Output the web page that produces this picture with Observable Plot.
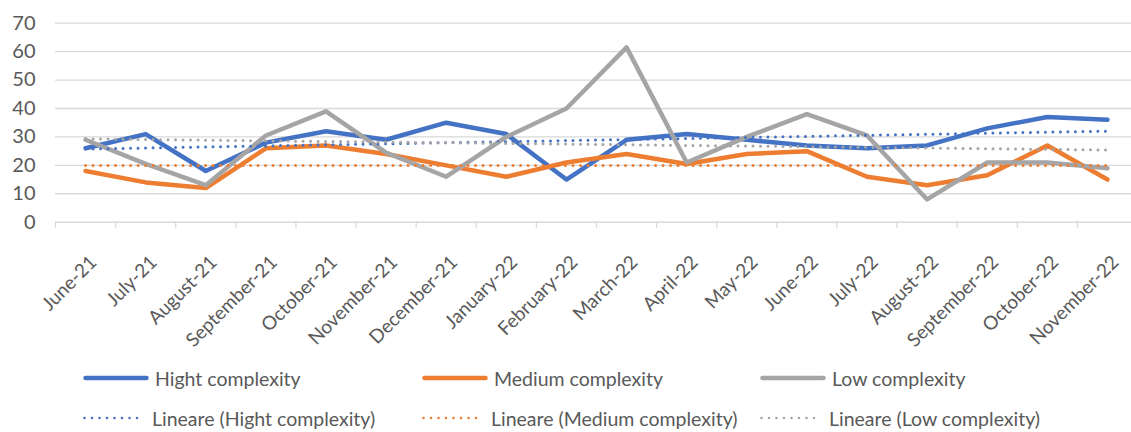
<!DOCTYPE html>
<html>
<head>
<meta charset="utf-8">
<script src="https://cdn.jsdelivr.net/npm/d3@7"></script>
<script src="https://cdn.jsdelivr.net/npm/@observablehq/plot@0.6"></script>
<style>
  html, body { margin: 0; padding: 0; background: #fff; }
  body { width: 1131px; height: 432px; overflow: hidden; font-family: Lato, "Open Sans", sans-serif; }
  #chart { position: relative; width: 1131px; height: 362px; }
  #legend { position: relative; width: 1131px; height: 70px; color: #595959; font-size: 19.5px; }
  .item { position: absolute; display: flex; align-items: center; white-space: nowrap; }
  .item svg { margin-right: 6px; }
</style>
</head>
<body>
<div id="chart"></div>
<div id="legend"></div>
<script>
const months = ["June-21","July-21","August-21","September-21","October-21","November-21","December-21","January-22","February-22","March-22","April-22","May-22","June-22","July-22","August-22","September-22","October-22","November-22"];
const high   = [26, 31, 18, 28, 32, 29, 35, 31, 15, 29, 31, 29, 27, 26, 27, 33, 37, 36];
const medium = [18, 14, 12, 26, 27, 24, 20, 16, 21, 24, 20.5, 24, 25, 16, 13, 16.5, 27, 15];
const low    = [29, 20.5, 13, 30.5, 39, 24.5, 16, 30, 40, 61.5, 21, 30, 38, 30.5, 8, 21, 21, 19];
const yTicks = [0, 10, 20, 30, 40, 50, 60, 70];
const seriesNames = ["Hight complexity", "Medium complexity", "Low complexity"];
const trendNames = ["Lineare (Hight complexity)", "Lineare (Medium complexity)", "Lineare (Low complexity)"];
const colors = ["#4472C4", "#ED7D31", "#A5A5A5"];

const values = [high, medium, low];
const rows = values.flatMap((vals, s) => vals.map((v, i) => ({series: seriesNames[s], i: i + 0.5, v})));
const boundaries = d3.range(0, months.length + 1);

const lineMarks = [];
const trendMarks = [];
seriesNames.forEach((name, s) => {
  const data = rows.filter(r => r.series === name);
  lineMarks.push(Plot.line(data, {x: "i", y: "v", stroke: colors[s], strokeWidth: 4.5, strokeLinejoin: "round", strokeLinecap: "round"}));
  trendMarks.push(Plot.linearRegressionY(data, {x: "i", y: "v", stroke: colors[s], ci: 0, strokeWidth: 3, strokeDasharray: "0 7.5", strokeLinecap: "round"}));
});

const chart = Plot.plot({
  width: 1131,
  height: 362,
  marginLeft: 55,
  marginRight: 0,
  marginTop: 22.7,
  marginBottom: 140.3,
  style: {fontFamily: "Lato, 'Open Sans', sans-serif", color: "#595959", background: "#fff"},
  x: {domain: [0, 17.9], axis: null},
  y: {domain: [0, 70], axis: null},
  marks: [
    Plot.ruleY(yTicks.filter(t => t > 0), {stroke: "#D9D9D9", strokeWidth: 1.3}),
    Plot.ruleY([0], {stroke: "#D9D9D9", strokeWidth: 1.5}),
    Plot.axisX(boundaries, {tickSize: 6, stroke: "#D9D9D9", strokeWidth: 1.3, tickFormat: () => "", label: null}),
    Plot.axisY(yTicks, {tickSize: 0, tickPadding: 20, fontSize: 20, fill: "#595959", label: null}),
    Plot.text(months, {x: (d, i) => i + 0.5, y: () => 0, text: d => d, rotate: -45, textAnchor: "end", dx: 8, dy: 37, fontSize: 19, fill: "#595959"}),
    ...lineMarks,
    ...trendMarks
  ]
});
document.getElementById("chart").appendChild(chart);

// Legend
const legend = document.getElementById("legend");
const cols = [83, 422, 760];
const rowsY = [16, 56];
function addItem(label, color, dotted, left, top) {
  const div = document.createElement("div");
  div.className = "item";
  div.style.left = left + "px";
  div.style.top = (top - 13) + "px";
  div.style.height = "26px";
  const w = dotted ? 63 : 66;
  const line = dotted
    ? `<line x1="1.5" y1="4" x2="${w - 1.5}" y2="4" stroke="${color}" stroke-width="2.6" stroke-dasharray="0 7.5" stroke-linecap="round"/>`
    : `<line x1="2.5" y1="4" x2="${w - 2.5}" y2="4" stroke="${color}" stroke-width="4.5" stroke-linecap="round"/>`;
  div.innerHTML = `<svg width="${w}" height="8">${line}</svg><span>${label}</span>`;
  legend.appendChild(div);
}
seriesNames.forEach((n, s) => addItem(n, colors[s], false, cols[s], rowsY[0]));
trendNames.forEach((n, s) => addItem(n, colors[s], true, cols[s], rowsY[1]));
</script>
</body>
</html>
